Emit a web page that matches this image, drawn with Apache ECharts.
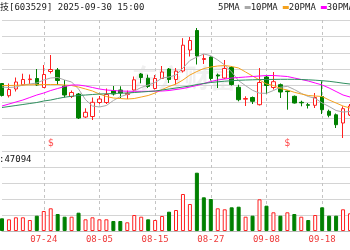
<!DOCTYPE html>
<html><head><meta charset="utf-8">
<script src="https://cdn.jsdelivr.net/npm/echarts@6/dist/echarts.min.js"></script>
<style>html,body{margin:0;padding:0;background:#fff}#c{width:350px;height:250px}</style>
</head><body><div id="c"></div>
<script>
const titleText = '技[603529] 2025-09-30 15:00';
const volumeLabel = ':47094';
const dates = ['07-16','07-17','07-18','07-21','07-22','07-23','07-24','07-25','07-28','07-29','07-30','07-31',
  '08-01','08-04','08-05','08-06','08-07','08-08','08-11','08-12','08-13','08-14','08-15','08-18','08-19','08-20','08-21','08-22','08-25','08-26','08-27','08-28','08-29',
  '09-01','09-02','09-03','09-04','09-05','09-08','09-09','09-10','09-11','09-12','09-15','09-16','09-17','09-18','09-19','09-22','09-23','09-24'];
const tickLabels = ['07-24','08-05','08-15','08-27','09-08','09-18'];
const opens = [38.65,37.43,38.10,38.52,39.04,39.15,38.25,39.85,40.00,38.40,37.35,37.60,35.30,35.35,36.75,36.75,37.95,38.00,37.55,38.00,39.60,39.18,38.15,39.15,40.10,39.05,39.90,42.00,43.95,41.05,41.30,39.50,39.20,40.25,38.27,37.08,37.25,36.53,39.30,38.25,38.53,37.90,37.37,36.77,36.53,36.47,37.35,35.87,35.52,34.70,35.50];
const closes = [37.45,38.05,38.80,39.05,39.10,38.50,39.55,40.05,38.95,37.50,37.75,35.20,35.77,36.77,37.10,37.55,37.60,37.70,37.67,39.02,39.25,38.35,39.15,39.80,39.05,39.88,42.48,42.95,41.40,41.15,39.15,39.40,40.15,38.55,37.03,37.15,36.87,38.75,38.45,38.83,37.80,37.84,36.70,36.72,36.47,37.25,36.03,35.47,34.53,36.13,36.40];
const lows = [37.35,37.25,37.85,38.45,38.60,38.40,38.20,39.65,38.50,37.25,37.20,35.10,35.20,35.00,36.60,36.60,37.45,37.20,37.10,37.95,38.67,38.20,38.05,39.10,38.70,38.55,39.75,41.35,40.55,40.60,38.95,38.20,39.10,38.45,36.87,36.40,36.60,36.45,37.60,38.05,37.20,36.03,36.65,36.37,36.15,36.20,35.60,35.27,34.20,33.20,35.40];
const highs = [38.70,38.65,39.25,39.63,39.55,40.10,40.50,41.50,40.20,39.00,37.95,37.70,36.17,37.25,37.40,38.15,38.40,38.37,37.95,39.35,39.70,39.53,39.50,40.40,40.20,40.20,43.18,43.30,44.20,41.58,41.35,39.65,41.00,40.40,38.53,37.37,37.35,40.20,39.40,39.80,38.65,37.95,37.45,36.93,36.70,37.70,38.87,36.03,35.65,36.37,36.60];
const volumes = [38100,35100,41100,41100,33000,45900,60000,68100,51000,42900,42900,54900,35100,41100,35100,35100,30000,30000,26100,48000,42900,35100,33000,45000,57900,63000,111000,81000,174900,101100,96000,68100,65100,71100,72900,42900,45900,95100,75900,56100,45900,56100,51000,42900,33000,48000,71100,45900,45900,65100,53100];
const volUp = [0,1,1,1,1,0,1,1,0,0, 1,0,1,1,1,1,0,0,1,1, 1,0,1,1,0,1,1,1,0,0, 0,1,1,0,0,1,0,1,0,1, 0,1,0,1,0,1,0,0,0,1, 1];
const maNames = ['5PMA','10PMA','20PMA','30PMA'];
const ma5 = [38.30,38.25,38.30,38.50,38.60,38.70,39.00,39.20,39.25,39.00,38.80,38.10,37.03,36.40,36.30,36.45,36.95,37.34,37.55,37.90,38.25,38.50,38.75,39.20,39.30,39.50,40.20,40.95,41.30,41.60,41.43,41.00,40.50,39.80,38.93,38.43,37.97,37.68,37.67,37.95,38.27,38.37,38.05,37.67,37.35,37.17,36.70,36.35,35.95,35.80,35.85];
const ma10 = [38.45,38.45,38.47,38.50,38.52,38.53,38.55,38.55,38.55,38.50,38.45,38.30,38.10,37.90,37.60,37.35,37.20,37.15,37.10,37.15,37.30,37.45,37.70,38.05,38.35,38.60,39.00,39.50,39.85,40.15,40.30,40.40,40.45,40.35,40.20,39.80,39.40,39.00,38.60,38.45,38.15,38.00,37.77,37.60,37.45,37.40,37.35,37.00,36.70,36.40,36.20];
const ma20 = [36.40,36.60,36.80,37.00,37.25,37.50,37.70,37.95,38.15,38.35,38.50,38.50,38.40,38.25,38.10,38.00,37.95,37.90,37.88,37.87,37.87,37.87,37.88,37.90,37.95,38.05,38.15,38.30,38.45,38.65,38.85,39.00,39.10,39.20,39.25,39.30,39.35,39.40,39.45,39.45,39.40,39.35,39.20,39.05,38.90,38.70,38.50,38.20,37.85,37.50,37.30];
const ma30 = [36.25,36.35,36.45,36.55,36.65,36.75,36.90,37.00,37.15,37.28,37.37,37.45,37.50,37.55,37.60,37.62,37.65,37.68,37.70,37.75,37.80,37.85,37.90,38.00,38.10,38.20,38.30,38.40,38.55,38.65,38.75,38.82,38.88,38.93,38.97,39.00,39.02,39.04,39.05,39.06,39.07,39.07,39.07,39.05,39.02,38.98,38.93,38.87,38.78,38.68,38.60];
const signalDates = ['07-25','09-11'];

const MONO = "'DejaVu Sans Mono','Liberation Mono','Noto Sans CJK SC',monospace";
const RED = '#ff2020', GREEN = '#008000';
const maColors = ['#a8a8a8','#f5a21e','#ff00ff','#2f8f5f'];
const maData = [ma5, ma10, ma20, ma30];
const tickFn = (i, v) => tickLabels.indexOf(v) >= 0;
const dashed = {show:true, interval:tickFn, lineStyle:{color:'#c4c4c4', type:[3,3], width:1}};
const hLines = {show:true, lineStyle:{color:'#d4d4d4', width:1}};

const chart = echarts.init(document.getElementById('c'), null, {renderer:'canvas'});
const candleData = dates.map((d,i)=>[opens[i], closes[i], lows[i], highs[i]]);
const volData = volumes.map((v,i)=>({value:v, itemStyle: volUp[i]
  ? {color:'#fff', borderColor:RED, borderWidth:1}
  : {color:GREEN, borderColor:GREEN, borderWidth:1}}));

const option = {
  animation:false,
  title:{text:titleText, left:0, top:3, padding:0,
    textStyle:{fontSize:9, fontFamily:MONO, fontWeight:'normal', color:'#222'}},
  legend:{left:218, top:3, width:300, padding:0, align:'right', icon:'rect', itemWidth:6, itemHeight:3, itemGap:0,
    selectedMode:false, textStyle:{fontSize:9, fontFamily:MONO, color:'#222'}, data:maNames},
  grid:[{left:2, width:350, top:20, height:115},{left:2, width:350, top:135, height:96}],
  xAxis:[
    {type:'category', gridIndex:0, data:dates, boundaryGap:false, axisLine:{show:false}, axisTick:{show:false},
      axisLabel:{show:false}, splitLine:dashed},
    {type:'category', gridIndex:1, data:dates, boundaryGap:false, axisLine:{show:true, lineStyle:{color:'#b8b8b8'}},
      axisTick:{show:false}, axisLabel:{interval:tickFn, margin:4, fontSize:9, fontFamily:MONO, color:'#ee3a3a'},
      splitLine:dashed}
  ],
  yAxis:[
    {gridIndex:0, type:'value', min:33.5, max:45, show:false},
    {gridIndex:0, type:'value', min:0, max:7, interval:1, axisLabel:{show:false}, axisLine:{show:false}, axisTick:{show:false}, splitLine:hLines},
    {gridIndex:1, type:'value', min:0, max:288000, show:false},
    {gridIndex:1, type:'value', min:0, max:6, interval:1, axisLabel:{show:false}, axisLine:{show:false}, axisTick:{show:false}, splitLine:hLines}
  ],
  graphic:[
    {type:'text', left:132, top:65, z:-10, silent:true,
      style:{text:'东方财富', fontSize:26, fontWeight:'bold', fontFamily:"'Noto Sans CJK SC'", fill:'rgba(0,0,0,0.06)'}},
    {type:'text', left:-1, top:155, style:{text:volumeLabel, fontSize:9, fontFamily:MONO, fill:'#111'}}
  ],
  series:[
    {type:'candlestick', name:'K', xAxisIndex:0, yAxisIndex:0, data:candleData, barWidth:4, clip:false,
      itemStyle:{color:'#fff', color0:GREEN, borderColor:RED, borderColor0:GREEN, borderWidth:1}},
    ...maNames.map((n,k)=>({type:'line', name:n, xAxisIndex:0, yAxisIndex:0, data:maData[k], symbol:'none',
      color:maColors[k], lineStyle:{width:1, color:maColors[k]}, z:3})),
    {type:'bar', name:'VOL', xAxisIndex:1, yAxisIndex:2, data:volData, barWidth:4, clip:false},
    {type:'scatter', name:'signal', xAxisIndex:1, yAxisIndex:3, data:signalDates.map(d=>[d,5.5]), symbolSize:1,
      itemStyle:{color:'rgba(0,0,0,0)'},
      label:{show:true, formatter:'$', position:'inside', color:RED, fontSize:10, fontFamily:MONO}}
  ]
};
chart.setOption(option);
</script></body></html>
